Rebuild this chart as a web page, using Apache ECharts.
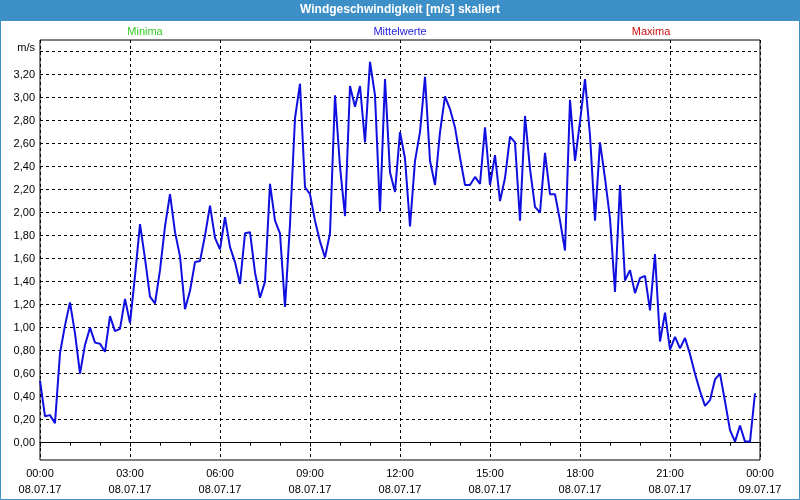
<!DOCTYPE html>
<html>
<head>
<meta charset="utf-8">
<script src="https://cdn.jsdelivr.net/npm/echarts@6/dist/echarts.min.js"></script>
<style>
html,body{margin:0;padding:0;background:#fff;}
#chart{width:800px;height:500px;}
</style>
</head>
<body>
<div id="chart"></div>
<script>
// ---- data ----
var chartTitle = 'Windgeschwindigkeit [m/s] skaliert';
var legendNames = ['Minima', 'Mittelwerte', 'Maxima'];
var stepMinutes = 10; // one reading every 10 minutes, starting 08.07.17 00:00
var wind = [
  0.54,0.23,0.24,0.17,0.78,1.02,1.22,0.95,0.60,0.85,1.00,0.87,
  0.86,0.79,1.10,0.97,0.99,1.25,1.04,1.45,1.90,1.60,1.27,1.21,
  1.50,1.88,2.16,1.83,1.62,1.16,1.32,1.57,1.58,1.80,2.06,1.78,
  1.68,1.96,1.70,1.57,1.38,1.82,1.83,1.48,1.26,1.40,2.25,1.93,
  1.82,1.18,1.90,2.82,3.12,2.22,2.16,1.93,1.75,1.61,1.82,3.02,
  2.40,1.97,3.10,2.92,3.10,2.61,3.31,3.02,2.01,3.16,2.35,2.18,
  2.70,2.47,1.88,2.45,2.70,3.18,2.45,2.24,2.70,3.01,2.90,2.74,
  2.48,2.24,2.24,2.31,2.25,2.74,2.24,2.50,2.10,2.30,2.66,2.61,
  1.93,2.84,2.38,2.05,2.00,2.52,2.16,2.16,1.93,1.67,2.98,2.45,
  2.79,3.16,2.67,1.93,2.61,2.30,1.95,1.31,2.24,1.41,1.50,1.30,
  1.43,1.45,1.15,1.64,0.88,1.13,0.81,0.92,0.82,0.91,0.77,0.60,
  0.45,0.32,0.37,0.55,0.60,0.36,0.11,0.01,0.15,0.01,0.01,0.43
];
var xTickTimes = ['00:00','03:00','06:00','09:00','12:00','15:00','18:00','21:00','00:00'];
var xTickDates = ['08.07.17','08.07.17','08.07.17','08.07.17','08.07.17','08.07.17','08.07.17','08.07.17','09.07.17'];
var yTicks = [0,0.2,0.4,0.6,0.8,1.0,1.2,1.4,1.6,1.8,2.0,2.2,2.4,2.6,2.8,3.0,3.2];
var yUnitTick = 3.4;
var yUnit = 'm/s';

// ---- chart ----
var FONT = 'Liberation Sans';
var blueBar = '#3d8fc7';
var chart = echarts.init(document.getElementById('chart'), null, {renderer: 'canvas'});

var seriesData = wind.map(function (v, i) { return [i * stepMinutes, v]; });

var gridLines = yTicks.map(function (t) {
  return {yAxis: t, label: {formatter: t.toFixed(2).replace('.', ',')}};
});
gridLines.push({yAxis: yUnitTick, label: {formatter: yUnit, offset: [0, -4]}});

var option = {
  animation: false,
  backgroundColor: '#fff',
  title: {
    text: chartTitle,
    left: 'center',
    top: 4,
    padding: 0,
    textStyle: {color: '#fff', fontWeight: 'bold', fontSize: 12, fontFamily: FONT}
  },
  graphic: [
    {type: 'rect', left: 0, top: 0, z: -10, shape: {width: 800, height: 21}, style: {fill: blueBar}},
    {type: 'rect', z: 100, shape: {x: 0.5, y: 0.5, width: 799, height: 499}, style: {fill: 'none', stroke: blueBar, lineWidth: 1}},
    {type: 'text', x: 145, y: 32, style: {text: legendNames[0], fill: '#33cc22', font: '11px "' + FONT + '"', textAlign: 'center', textVerticalAlign: 'middle'}},
    {type: 'text', x: 400, y: 32, style: {text: legendNames[1], fill: '#2222dd', font: '11px "' + FONT + '"', textAlign: 'center', textVerticalAlign: 'middle'}},
    {type: 'text', x: 651, y: 32, style: {text: legendNames[2], fill: '#cc1111', font: '11px "' + FONT + '"', textAlign: 'center', textVerticalAlign: 'middle'}}
  ],
  grid: {
    left: 40, right: 40, top: 40, bottom: 40,
    show: true, borderColor: '#000', borderWidth: 1, backgroundColor: '#fff'
  },
  xAxis: {
    type: 'value',
    min: 0,
    max: (xTickTimes.length - 1) * 180,
    interval: 180,
    axisLine: {show: true, lineStyle: {color: '#000', width: 1}},
    axisTick: {show: true, length: 4, lineStyle: {color: '#000'}},
    minorTick: {show: true, splitNumber: 3, length: 3, lineStyle: {color: '#000'}},
    splitLine: {show: true, lineStyle: {color: '#000', type: [3, 3], width: 1}},
    axisLabel: {
      show: true, margin: 6, color: '#000', fontSize: 11, fontFamily: FONT, lineHeight: 16,
      showMinLabel: true, showMaxLabel: true, hideOverlap: false,
      formatter: function (v) {
        var k = Math.round(v / 180);
        return xTickTimes[k] + '\n' + xTickDates[k];
      }
    }
  },
  yAxis: {
    type: 'value',
    min: -0.15,
    max: 3.5,
    axisLine: {show: false},
    axisTick: {show: false},
    axisLabel: {show: false},
    splitLine: {show: false}
  },
  series: [
    {
      name: legendNames[1],
      type: 'line',
      data: seriesData,
      symbol: 'none',
      z: 3,
      lineStyle: {color: '#0f0fe0', width: 2},
      markLine: {
        z: 1,
        silent: true,
        symbol: ['none', 'none'],
        animation: false,
        lineStyle: {color: '#000', type: [3, 3], width: 1},
        label: {
          show: true, position: 'start', distance: 5, color: '#000',
          fontSize: 11, fontFamily: FONT
        },
        emphasis: {disabled: true},
        data: gridLines
      }
    }
  ]
};
chart.setOption(option);
</script>
</body>
</html>
